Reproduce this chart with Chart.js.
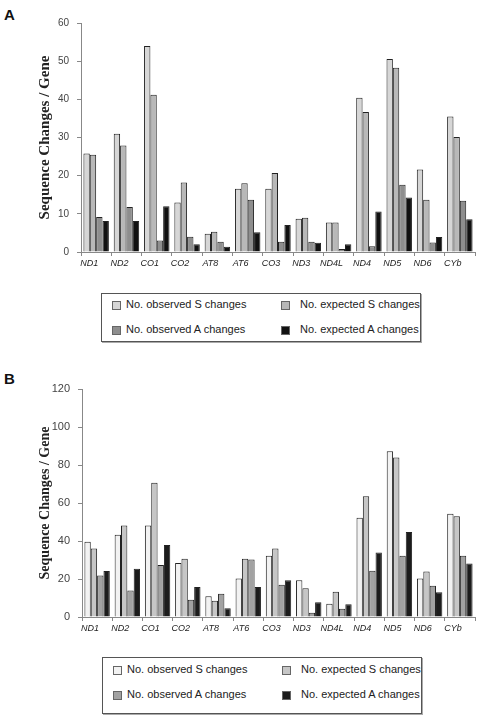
<!DOCTYPE html>
<html>
<head>
<meta charset="utf-8">
<script src="https://cdn.jsdelivr.net/npm/chart.js@4.4.0/dist/chart.umd.min.js"></script>
<style>
  body { margin: 0; background: #fff; width: 480px; height: 716px; position: relative; overflow: hidden;
         font-family: "Liberation Sans", Arial, sans-serif; }
  canvas { position: absolute; left: 0; }
  .letter { position: absolute; font-weight: bold; font-size: 15px; color: #111; }
  .legend { position: absolute; border: 1px solid #555; box-shadow: 1px 1px 0 #aaa; font-size: 11px; color: #222; }
  .item { position: absolute; white-space: nowrap; line-height: 12px; }
  .item i { display: inline-block; width: 7px; height: 7px; border: 1px solid #666; margin-right: 7px; }
</style>
</head>
<body>
<div class="letter" style="left:4px;top:6px">A</div>
<canvas id="chartA" width="480" height="280" style="top:0"></canvas>
<div class="legend" id="legendA" style="left:101px;top:293px;width:318px;height:47px"></div>

<div class="letter" style="left:4px;top:370px">B</div>
<canvas id="chartB" width="480" height="280" style="top:360px"></canvas>
<div class="legend" id="legendB" style="left:102px;top:657px;width:318px;height:55px"></div>

<script>
const genes = ['ND1', 'ND2', 'CO1', 'CO2', 'AT8', 'AT6', 'CO3', 'ND3', 'ND4L', 'ND4', 'ND5', 'ND6', 'CYb'];
const seriesNames = ['No. observed S changes', 'No. expected S changes', 'No. observed A changes', 'No. expected A changes'];

// panel A
const obsS_A = [25.8, 31, 54, 13, 4.8, 16.6, 16.6, 8.7, 7.7, 40.4, 50.6, 21.6, 35.5];
const expS_A = [25.5, 27.9, 41.2, 18.2, 5.3, 18, 20.7, 9, 7.7, 36.7, 48.3, 13.7, 30.1];
const obsA_A = [9.2, 11.8, 3, 4, 2.7, 13.7, 2.7, 2.7, 0.8, 1.5, 17.6, 2.5, 13.4];
const expA_A = [8.1, 8.1, 12, 2, 1.4, 5.2, 7.1, 2.4, 2, 10.6, 14.3, 3.9, 8.6];

// panel B
const obsS_B = [39.6, 43.3, 48.2, 28.4, 10.9, 20.2, 32.3, 19.3, 7, 52.3, 87.2, 20.2, 54.4];
const expS_B = [36, 48.2, 70.7, 30.7, 8.6, 30.7, 36, 15.1, 13.3, 63.5, 83.9, 24, 53];
const obsA_B = [21.8, 14, 27.4, 9.1, 12.3, 30.2, 17, 2.3, 4.4, 24.4, 32.3, 16.5, 32.3];
const expA_B = [24.2, 25.4, 37.9, 15.8, 4.6, 15.8, 19.3, 7.7, 6.7, 33.9, 44.7, 13, 28.2];

const colorsA = ['#d6d6d6', '#b8b8b8', '#8e8e8e', '#111111'];
const colorsB = ['#f2f2f2', '#c6c6c6', '#a2a2a2', '#1c1c1c'];

function makeChart(id, series, colors, opt) {
  const data = {
    labels: genes,
    datasets: series.map((vals, i) => ({
      label: seriesNames[i],
      data: vals,
      backgroundColor: colors[i],
      borderColor: '#222',
      borderWidth: 1,
      barPercentage: 1,
      categoryPercentage: 0.84
    }))
  };

  const config = {
    type: 'bar',
    data,
    options: {
      responsive: false,
      animation: false,
      layout: { padding: { top: opt.top, left: opt.left, right: 5, bottom: 0 } },
      plugins: { legend: { display: false }, tooltip: { enabled: false } },
      scales: {
        x: {
          grid: { drawOnChartArea: false, tickLength: 4, color: '#888', offset: true },
          border: { color: '#888' },
          ticks: { font: { size: 9, style: 'italic' }, color: '#222', padding: 2,
                   labelOffset: -7, maxRotation: 0, autoSkip: false },
          afterFit: s => { s.height = opt.xh; }
        },
        y: {
          min: 0, max: opt.max,
          ticks: { stepSize: opt.step, font: { size: opt.tick }, color: '#444', padding: 8 },
          grid: { drawOnChartArea: false, tickLength: 4, color: '#888' },
          border: { color: '#888' },
          title: {
            display: true, text: 'Sequence Changes / Gene', color: '#222',
            font: { family: '"Liberation Serif", "Times New Roman", serif', weight: 'bold', size: opt.title },
            padding: { top: 4, bottom: 0 }
          },
          afterFit: s => { s.width = opt.yw; }
        }
      }
    }
  };
  return new Chart(document.getElementById(id), config);
}

// legend box, built from the chart's own datasets
function fillLegend(chart, boxId, rows) {
  const box = document.getElementById(boxId);
  const cols = [{ sw: 10, tx: 24 }, { sw: 179, tx: 198 }];
  chart.data.datasets.forEach((ds, i) => {
    const c = cols[i % 2];
    const y = rows[Math.floor(i / 2)];
    const sw = document.createElement('div');
    sw.className = 'item';
    sw.style.left = c.sw + 'px';
    sw.style.top = (y - 4) + 'px';
    sw.innerHTML = '<i style="background:' + ds.backgroundColor + '"></i>';
    box.appendChild(sw);
    const tx = document.createElement('div');
    tx.className = 'item';
    tx.style.left = c.tx + 'px';
    tx.style.top = (y - 6) + 'px';
    tx.textContent = ds.label;
    box.appendChild(tx);
  });
}

const chartA = makeChart('chartA', [obsS_A, expS_A, obsA_A, expA_A], colorsA,
  { max: 60, step: 10, top: 23, left: 32, yw: 49, xh: 28, tick: 10, title: 15 });
const chartB = makeChart('chartB', [obsS_B, expS_B, obsA_B, expA_B], colorsB,
  { max: 120, step: 20, top: 29, left: 33, yw: 49, xh: 23, tick: 11, title: 14 });

fillLegend(chartA, 'legendA', [10, 35]);
fillLegend(chartB, 'legendB', [11, 36]);
</script>
</body>
</html>
